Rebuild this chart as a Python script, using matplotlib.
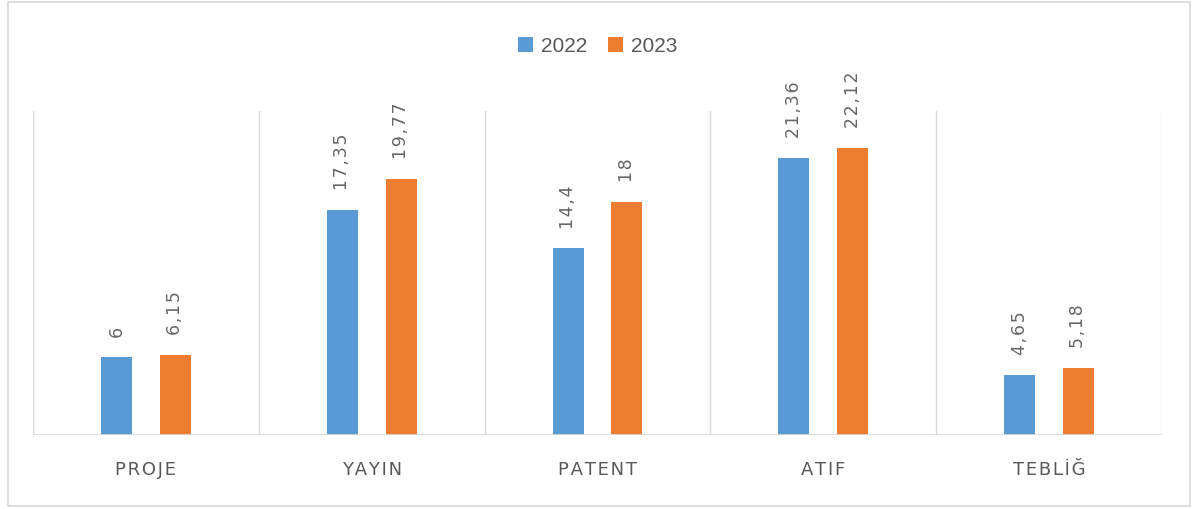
import matplotlib
matplotlib.use("Agg")
import matplotlib.pyplot as plt
from matplotlib.patches import Rectangle
import numpy as np

categories = ["PROJE", "YAYIN", "PATENT", "ATIF", "TEBLİĞ"]
series_names = ["2022", "2023"]
values_2022 = [6, 17.35, 14.4, 21.36, 4.65]
values_2023 = [6.15, 19.77, 18, 22.12, 5.18]
label_2022 = ["6", "17,35", "14,4", "21,36", "4,65"]
label_2023 = ["6,15", "19,77", "18", "22,12", "5,18"]

colors = ["#5B9BD5", "#ED7D31"]
text_col = "#595959"
grid_col = "#D9D9D9"

plt.rcParams['font.family'] = ['Liberation Sans Narrow', 'Liberation Sans', 'DejaVu Sans']

W, H = 1196, 510
fig = plt.figure(figsize=(W / 100, H / 100), dpi=100)
ax = fig.add_axes([33 / W, 1 - 436 / H, (1162 - 33) / W, (436 - 112) / H])

x = np.arange(len(categories))
bw = 0.137
off = 0.13
b1 = ax.bar(x - off, values_2022, bw, color=colors[0], label=series_names[0], zorder=3)
b2 = ax.bar(x + off, values_2023, bw, color=colors[1], label=series_names[1], zorder=3)

for bars, labels in ((b1, label_2022), (b2, label_2023)):
    for rect, lab in zip(bars, labels):
        ax.annotate("\u200a".join(lab), (rect.get_x() + rect.get_width() / 2, rect.get_height()),
                    xytext=(0, 15), textcoords="offset points", rotation=90,
                    ha="center", va="bottom", color="#666666", fontsize=12.5,
                    family=['DejaVu Sans'])

ax.set_xlim(-0.5, len(categories) - 0.5)
ax.set_ylim(0, 25)
for b in np.arange(-0.5, len(categories), 1.0):
    ax.axvline(b, color=grid_col, lw=1, zorder=1)
ax.axhline(0, color=grid_col, lw=1.2, zorder=4)

for s in ax.spines.values():
    s.set_visible(False)
ax.set_yticks([])
ax.set_xticks(x)
ax.set_xticklabels(["\u200a".join(c) for c in categories], color=text_col,
                   fontsize=13, family=['DejaVu Sans'])
ax.tick_params(axis='x', length=0, pad=18)

leg = fig.legend(handles=[b1, b2], labels=series_names, loc="center",
                 bbox_to_anchor=(0.5, 1 - 47 / H), ncol=2, frameon=False,
                 fontsize=15, handlelength=0.7, handleheight=0.7,
                 handletextpad=0.4, columnspacing=1.0)
for t in leg.get_texts():
    t.set_color(text_col)

fig.patches.append(Rectangle((8 / W, 1 - 507 / H), (1190 - 8) / W, (507 - 3) / H,
                             transform=fig.transFigure, fill=False,
                             edgecolor="#D9D9D9", lw=1.2))

fig.savefig("out.png", dpi=100, facecolor="white")
